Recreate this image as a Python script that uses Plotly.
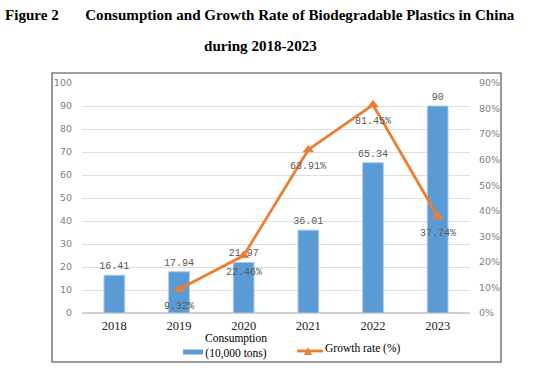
import plotly.graph_objects as go

years = ["2018", "2019", "2020", "2021", "2022", "2023"]
consumption = [16.41, 17.94, 21.97, 36.01, 65.34, 90]
growth = [None, 9.32, 22.46, 63.91, 81.45, 37.74]
consumption_labels = ["16.41", "17.94", "21.97", "36.01", "65.34", "90"]
growth_labels = ["", "9.32%", "22.46%", "63.91%", "81.45%", "37.74%"]
left_ticks = list(range(0, 101, 10))
right_ticks = list(range(0, 91, 10))
right_tick_text = [f"{v}%" for v in right_ticks]

label_font = dict(family="Liberation Mono, DejaVu Sans Mono, monospace", size=10, color="#595959")
serif = "Liberation Serif, Times New Roman, serif"
BAR = "#5b9bd5"
LINE = "#ed7d31"

L, R, T, B = 82, 89, 83, 59
W, H = 559, 372
PW, PH = W - L - R, H - T - B


def px(x):
    return (x - L) / PW


def py(y):
    return (H - B - y) / PH


fig = go.Figure()
fig.add_trace(go.Bar(
    x=years, y=consumption, name="Consumption (10,000 tons)",
    marker=dict(color=BAR, line=dict(color="#a9c9ea", width=1)),
    width=0.32,
    text=consumption_labels, textposition="outside", textfont=label_font,
    constraintext="none", cliponaxis=False,
))
fig.add_trace(go.Scatter(
    x=years, y=growth, name="Growth rate (%)", yaxis="y2",
    mode="lines+markers",
    line=dict(color=LINE, width=2.8),
    marker=dict(symbol="triangle-up", size=10, color=LINE),
    cliponaxis=False,
))

# growth-rate data labels placed below each point (category index on the x axis)
for i, (g, lab) in enumerate(zip(growth, growth_labels)):
    if g is None:
        continue
    fig.add_annotation(x=i, y=g, xref="x", yref="y2", text=lab, showarrow=False,
                       yshift=-17, xanchor="center", yanchor="middle", font=label_font)

fig.update_layout(
    width=W, height=H,
    margin=dict(l=L, r=R, t=T, b=B, autoexpand=False),
    paper_bgcolor="white", plot_bgcolor="white",
    showlegend=False,
    xaxis=dict(type="category", range=[-0.5, len(years) - 0.5],
               showgrid=False, showline=False, ticks="",
               tickfont=dict(family=serif, size=12.5, color="#222"),
               ticklabelstandoff=3),
    yaxis=dict(range=[0, 100], tickvals=left_ticks, showgrid=True,
               gridcolor="#e0e0e0", gridwidth=1, zeroline=True, zerolinecolor="#d0d0d0",
               tickfont=dict(family="DejaVu Sans, sans-serif", size=9.5, color="#7f7f7f"),
               ticks="", ticklabelstandoff=9),
    yaxis2=dict(range=[0, 90], tickvals=right_ticks, ticktext=right_tick_text,
                overlaying="y", side="right", showgrid=False, zeroline=False,
                tickfont=dict(family="DejaVu Sans, sans-serif", size=9.5, color="#7f7f7f"),
                ticks="", ticklabelstandoff=8),
)

# chart border
fig.add_shape(type="rect", xref="paper", yref="paper",
              x0=px(52), x1=px(501), y0=py(362), y1=py(73),
              line=dict(color="#7f7f7f", width=1.6), layer="below")

# custom legend
fig.add_shape(type="rect", xref="paper", yref="paper",
              x0=px(183), x1=px(203), y0=py(354.5), y1=py(349.5),
              fillcolor=BAR, line=dict(width=0))
fig.add_annotation(text="Consumption<br>(10,000 tons)", xref="paper", yref="paper",
                   x=px(236), y=py(346), xanchor="center", yanchor="middle",
                   showarrow=False, align="center",
                   font=dict(family=serif, size=11.5, color="#000"))
fig.add_shape(type="line", xref="paper", yref="paper",
              x0=px(297), x1=px(323), y0=py(351), y1=py(351),
              line=dict(color=LINE, width=2.8))
fig.add_shape(type="path", xref="paper", yref="paper",
              path=f"M {px(304)} {py(355)} L {px(312)} {py(355)} L {px(308)} {py(347)} Z",
              fillcolor=LINE, line=dict(width=0))
fig.add_annotation(text="Growth rate (%)", xref="paper", yref="paper",
                   x=px(323), y=py(348), xanchor="left", yanchor="middle",
                   showarrow=False,
                   font=dict(family=serif, size=11.5, color="#000"))

# title
fig.add_annotation(text="<b>Figure 2&nbsp;&nbsp;&nbsp;&nbsp;&nbsp;&nbsp;&nbsp;Consumption and Growth Rate of Biodegradable Plastics in China</b>",
                   xref="paper", yref="paper", x=px(260), y=py(15),
                   xanchor="center", yanchor="middle", showarrow=False,
                   font=dict(family=serif, size=15.1, color="#000"))
fig.add_annotation(text="<b>during 2018-2023</b>",
                   xref="paper", yref="paper", x=px(260), y=py(46),
                   xanchor="center", yanchor="middle", showarrow=False,
                   font=dict(family=serif, size=15.1, color="#000"))

fig.write_html("out.html", config={"displayModeBar": False})

# remove the default page margin so the figure sits at the window origin
with open("out.html", encoding="utf-8") as f:
    html = f.read()
html = html.replace("<head>", "<head><style>html,body{margin:0;padding:0;overflow:hidden;}</style>", 1)
with open("out.html", "w", encoding="utf-8") as f:
    f.write(html)
